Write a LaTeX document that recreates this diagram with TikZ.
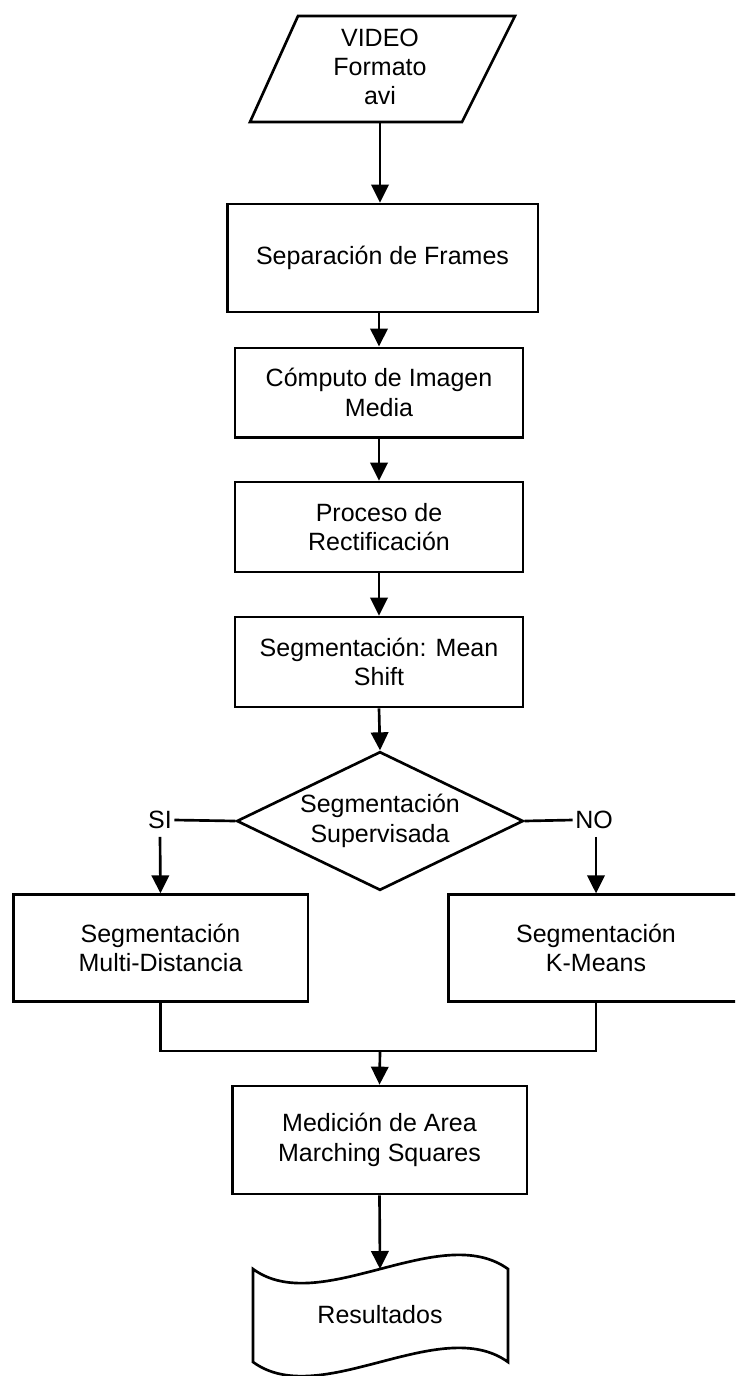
\documentclass[tikz,border=0pt]{standalone}
\usepackage{fontspec}
\setmainfont{Liberation Sans}
\usetikzlibrary{shapes.geometric,arrows.meta}

\begin{document}
\begin{tikzpicture}[x=0.75pt,y=-0.75pt,line width=2pt,
	every node/.style={font=\fontsize{18.75}{22}\selectfont,align=center},
	caja/.style={draw,rectangle,inner sep=0pt},
	rombo/.style={draw,diamond,aspect=2.07,inner sep=0pt,minimum width=215pt,minimum height=104pt},
	etiq/.style={inner xsep=1pt,inner ysep=5pt},
	flecha/.style={-{Triangle[width=13pt,length=13.5pt]}}]
	\useasboundingbox (0,0) rectangle (735,1376);
	\clip (0,0) rectangle (735,1376);
	\fill[white] (0,0) rectangle (735,1376);
	% entrada
	\draw (298,16)--(515,16)--(462,122)--(250,122)--cycle;
	\node (video) at (380,67) {VIDEO\\Formato\\avi};
	\coordinate (videobot) at (380,122);
	% procesos
	\node[caja,minimum width=233pt,minimum height=81pt] (sep) at (382.5,258) {Separación de Frames};
	\node[caja,minimum width=216pt,minimum height=67pt] (comp) at (379,392.5) {Cómputo de Imagen\\Media};
	\node[caja,minimum width=216pt,minimum height=67.5pt] (rect) at (379,527) {Proceso de\\Rectificación};
	\node[caja,minimum width=216pt,minimum height=67.5pt] (mean) at (379,662) {Segmentación: Mean\\Shift};
	\node[rombo] (sup) at (380,821) {Segmentación\\Supervisada};
	\node[etiq] (si) at (160,820) {SI};
	\node[etiq] (no) at (594,820) {NO};
	\node[caja,minimum width=221pt,minimum height=80pt] (multi) at (160.5,948) {Segmentación\\Multi-Distancia};
	\node[caja,minimum width=221pt,minimum height=80pt] (kmeans) at (596,948) {Segmentación\\K-Means};
	\node[caja,minimum width=221pt,minimum height=81pt] (area) at (379.5,1140) {Medición de Area\\Marching Squares};
	% salida
	\draw (253,1269) .. controls (320,1318) and (440,1220) .. (508,1269)--(508,1362)
		.. controls (440,1313) and (320,1411) .. (253,1362)--cycle;
	\node (res) at (380,1315) {Resultados};
	\coordinate (restop) at (380,1269);
	\coordinate (union) at (380,1051);
	% conexiones
	\draw[flecha] (videobot)--(videobot|-sep.north);
	\draw[flecha] (comp.north|-sep.south)--(comp.north);
	\draw[flecha] (comp)--(rect);
	\draw[flecha] (rect)--(mean);
	\draw[flecha] (mean.south)--(sup.north);
	\draw (sup.west)--(si.east);
	\draw (sup.east)--(no.west);
	\draw[flecha] (si.south)--(multi.north);
	\draw[flecha] (kmeans.north|-no.south)--(kmeans.north);
	\draw (multi.south)|-(union)-|(kmeans.south);
	\draw[flecha] (union)--(area.north);
	\draw[flecha] (area.south)--(restop);
\end{tikzpicture}
\end{document}
